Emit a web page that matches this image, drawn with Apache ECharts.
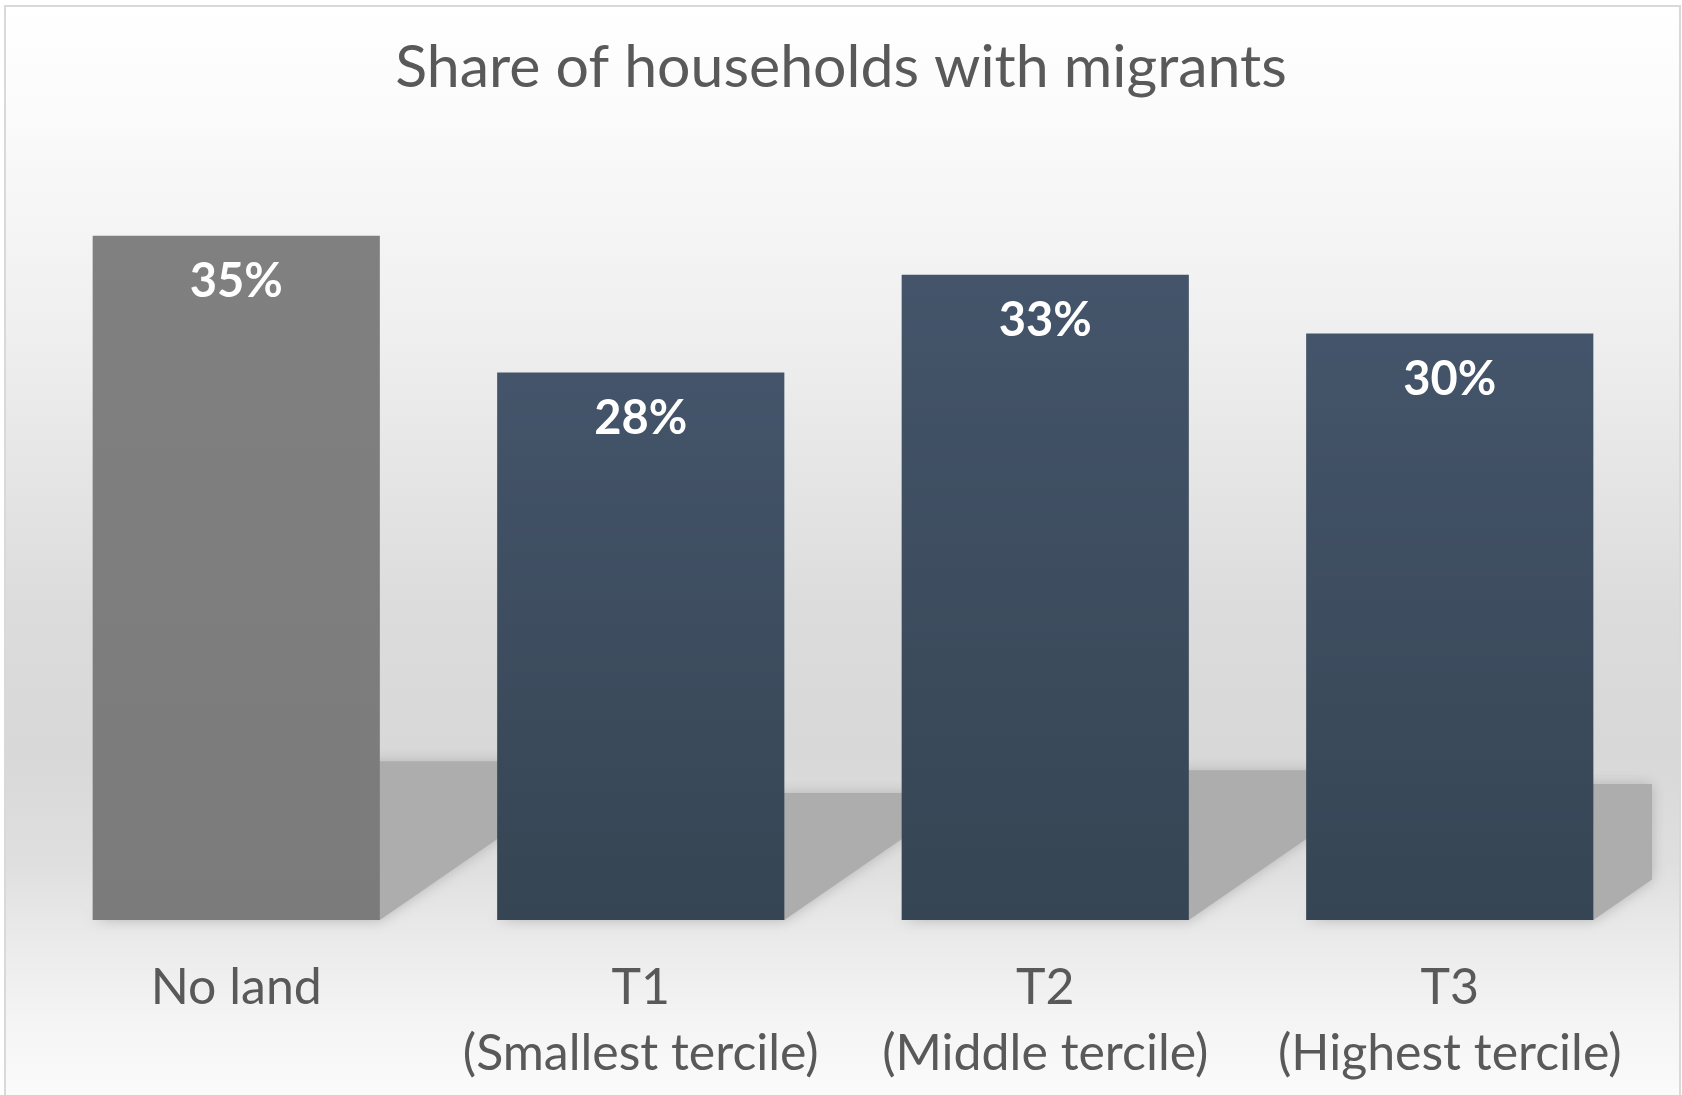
<!DOCTYPE html>
<html>
<head>
<meta charset="utf-8">
<script src="https://cdn.jsdelivr.net/npm/echarts@6/dist/echarts.min.js"></script>
<style>
html,body{margin:0;padding:0;background:#ffffff;}
#chart{width:1682px;height:1095px;}
</style>
</head>
<body>
<div id="chart"></div>
<script>
var titleText = 'Share of households with migrants';
var categories = ['No land', 'T1\n(Smallest tercile)', 'T2\n(Middle tercile)', 'T3\n(Highest tercile)'];
var values = [35, 28, 33, 30];

var chart = echarts.init(document.getElementById('chart'));
var W = 1682, H = 1095;
function off(y){ return Math.max(0, Math.min(1, (y - 6) / (H - 6))); }
var bgGrad = new echarts.graphic.LinearGradient(0, 0, 0, 1, [
  {offset: 0, color: '#ffffff'},
  {offset: off(110), color: '#fbfbfb'},
  {offset: off(330), color: '#efefef'},
  {offset: off(600), color: '#dcdcdc'},
  {offset: off(745), color: '#d8d8d8'},
  {offset: off(855), color: '#dfdfdf'},
  {offset: off(920), color: '#e9e9e9'},
  {offset: off(1007), color: '#f4f4f4'},
  {offset: 1, color: '#fcfcfc'}
]);

var BAR_RATIO = 0.71;
var SHADOW_SCALE = 0.232;
var SHADOW_SKEW = 1.45;

var option = {
  animation: false,
  graphic: [{
    type: 'rect', z: -10, silent: true,
    shape: {x: 5, y: 6, width: 1675, height: 1100},
    style: {fill: bgGrad, stroke: '#d9d9d9', lineWidth: 2}
  }],
  title: {
    text: titleText,
    left: 'center',
    top: 28,
    textStyle: {fontFamily: 'Lato', fontWeight: 'normal', fontSize: 59, color: '#595959', lineHeight: 70}
  },
  grid: {left: 34, right: 30, top: 138, bottom: 175, containLabel: false},
  xAxis: {
    type: 'category',
    data: categories,
    axisLine: {show: false},
    axisTick: {show: false},
    axisLabel: {
      interval: 0, margin: 35, verticalAlign: 'top',
      fontFamily: 'Lato', fontSize: 50, lineHeight: 66, color: '#595959'
    }
  },
  yAxis: {
    type: 'value', min: 0, max: 40,
    show: false,
    splitLine: {show: false}
  },
  series: [
    {
      type: 'custom',
      z: 1,
      silent: true,
      data: values.map(function(v, i){ return [i, v]; }),
      renderItem: function(params, api){
        var idx = api.value(0), v = api.value(1);
        var base = api.coord([idx, 0]);
        var top = api.coord([idx, v]);
        var bw = api.size([1, 0])[0] * BAR_RATIO;
        var L = base[0] - bw / 2, R = base[0] + bw / 2;
        var by = base[1];
        var hs = (by - top[1]) * SHADOW_SCALE;
        var dx = hs * SHADOW_SKEW;
        var cs = params.coordSys;
        var cr = cs.x + cs.width;
        var pts;
        if (R + dx <= cr) {
          pts = [[L, by], [R, by], [R + dx, by - hs], [L + dx, by - hs]];
        } else {
          pts = [[L, by], [R, by], [cr, by - (cr - R) / SHADOW_SKEW], [cr, by - hs], [L + dx, by - hs]];
        }
        return {
          type: 'polygon',
          shape: {points: pts},
          style: {fill: '#adadad', shadowBlur: 14, shadowColor: 'rgba(173,173,173,0.85)'}
        };
      }
    },
    {
      type: 'bar',
      z: 3,
      barWidth: (BAR_RATIO * 100) + '%',
      data: values.map(function(v, i){
        return {
          value: v,
          itemStyle: {
            color: i === 0
              ? new echarts.graphic.LinearGradient(0, 0, 0, 1, [{offset: 0, color: '#808080'}, {offset: 1, color: '#7b7b7b'}])
              : new echarts.graphic.LinearGradient(0, 0, 0, 1, [{offset: 0, color: '#44546a'}, {offset: 1, color: '#364553'}])
          }
        };
      }),
      label: {
        show: true,
        position: 'insideTop',
        distance: 18,
        formatter: '{c}%',
        fontFamily: 'Lato', fontWeight: 'bold', fontSize: 47, lineHeight: 56,
        color: '#ffffff'
      }
    }
  ]
};
chart.setOption(option);
</script>
</body>
</html>
